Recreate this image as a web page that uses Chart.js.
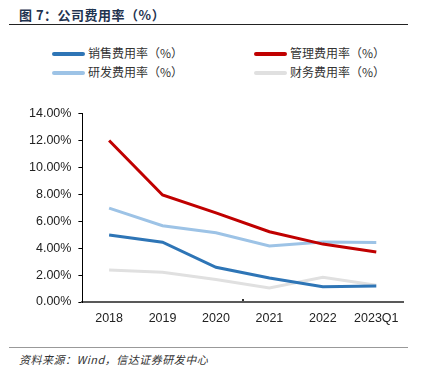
<!DOCTYPE html>
<html>
<head>
<meta charset="utf-8">
<script src="https://cdn.jsdelivr.net/npm/chart.js@4.4.0/dist/chart.umd.min.js"></script>
<style>
  body { margin: 0; background: #fff; width: 421px; height: 378px; position: relative; overflow: hidden; font-family: "Noto Sans CJK SC", sans-serif; }
  #title { position: absolute; left: 19px; top: 5px; font-size: 13px; font-weight: bold; color: #1f3350; white-space: nowrap; letter-spacing: 0.5px; }
  #topline { position: absolute; left: 9px; top: 24px; width: 399px; height: 1px; background: #222; }
  #legend { position: absolute; left: 0; top: 44px; width: 421px; height: 40px; }
  .item { position: absolute; height: 18px; font-size: 12px; color: #333; white-space: nowrap; line-height: 18px; }
  .item span.mark { display: inline-block; width: 33px; height: 4px; border-radius: 2px; vertical-align: middle; margin-right: 3px; position: relative; top: -1px; }
  #box { position: absolute; left: 0; top: 99px; width: 421px; height: 239px; }
  #botline { position: absolute; left: 9px; top: 347px; width: 399px; height: 1px; background: #999; }
  #source { position: absolute; left: 19px; top: 351px; font-size: 11px; font-style: italic; color: #333; white-space: nowrap; letter-spacing: 0.5px; }
</style>
</head>
<body>
<div id="title">图 7：公司费用率（%）</div>
<div id="topline"></div>
<div id="legend"></div>
<div id="box"><canvas id="chart"></canvas></div>
<div id="botline"></div>
<div id="source">资料来源：Wind，信达证券研发中心</div>
<script>
// 数据
let years = ["2018", "2019", "2020", "2021", "2022", "2023Q1"];
let seriesNames = ["销售费用率（%）", "管理费用率（%）", "研发费用率（%）", "财务费用率（%）"];
let sales = [4.98, 4.44, 2.58, 1.78, 1.13, 1.19];
let admin = [12.0, 7.95, 6.62, 5.22, 4.3, 3.72];
let rnd = [6.97, 5.66, 5.14, 4.16, 4.46, 4.42];
let finance = [2.38, 2.21, 1.67, 1.05, 1.83, 1.25];
let yTicks = [0, 2, 4, 6, 8, 10, 12, 14];

let colors = ["#2e75b6", "#c00000", "#9dc3e6", "#e0e0e0"];
let allData = [sales, admin, rnd, finance];

let datasets = allData.map((d, i) => ({
    label: seriesNames[i],
    data: d,
    borderColor: colors[i],
    backgroundColor: colors[i],
    borderWidth: 3,
    pointRadius: 0,
    tension: 0,
    order: [3, 1, 2, 4][i]
}));

let ctx = document.getElementById("chart").getContext("2d");
let chart = new Chart(ctx, {
    type: "line",
    data: { labels: years, datasets: datasets },
    options: {
        responsive: true,
        maintainAspectRatio: false,
        animation: false,
        layout: { padding: { left: 22, right: 18, top: 9, bottom: 0 } },
        plugins: {
            legend: { display: false },
            tooltip: { enabled: false }
        },
        scales: {
            x: {
                offset: true,
                grid: {
                    offset: true,
                    drawOnChartArea: false,
                    drawTicks: true,
                    tickLength: -3,
                    lineWidth: 2,
                    color: c => (c.index === 3 || c.index === 6) ? "#333" : "rgba(0,0,0,0)"
                },
                border: { display: true, color: "#595959", width: 2 },
                ticks: { color: "#222", padding: 12, font: { size: 12.5, family: "Liberation Sans" } }
            },
            y: {
                min: 0,
                max: 14,
                afterBuildTicks: axis => { axis.ticks = yTicks.map(v => ({ value: v })); },
                grid: { drawOnChartArea: false, drawTicks: true, tickLength: 4, color: "#000" },
                border: { display: true, color: "#000", width: 1 },
                ticks: {
                    color: "#222",
                    padding: 7,
                    font: { size: 12.5, family: "Liberation Sans" },
                    callback: v => v.toFixed(2) + "%"
                }
            }
        }
    }
});

// 图例（两列）
let legendBox = document.getElementById("legend");
let pos = [[52, 0], [254, 0], [52, 19], [254, 19]];
chart.data.datasets.forEach((ds, i) => {
    let div = document.createElement("div");
    div.className = "item";
    div.style.left = pos[i][0] + "px";
    div.style.top = pos[i][1] + "px";
    div.innerHTML = '<span class="mark" style="background:' + ds.borderColor + '"></span>' + ds.label;
    legendBox.appendChild(div);
});
</script>
</body>
</html>
